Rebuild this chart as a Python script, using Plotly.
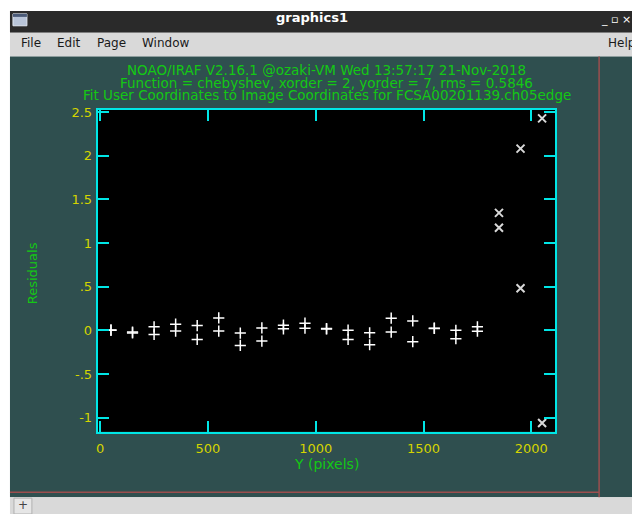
import plotly.graph_objects as go

# ---------------- data ----------------
fit_y_pixels = [50, 50, 150, 150, 250, 250, 350, 350, 450, 450, 550, 550,
                650, 650, 750, 750, 850, 850, 950, 950, 1050, 1050,
                1150, 1150, 1250, 1250, 1350, 1350, 1450, 1450, 1550, 1550,
                1650, 1650, 1750, 1750]
fit_residuals = [0.0, 0.005, -0.02, -0.03, 0.04, -0.048, 0.07, -0.009, 0.054, -0.104,
                 0.142, -0.009, -0.032, -0.173, 0.028, -0.123, 0.059, 0.017,
                 0.082, 0.025, 0.02, 0.015, 0.002, -0.104, -0.028, -0.165,
                 0.139, -0.02, 0.108, -0.13, 0.025, 0.022, 0.0, -0.096, 0.04, -0.01]

deleted_y_pixels = [1850, 1850, 1950, 1950, 2050, 2050]
deleted_residuals = [1.345, 1.175, 2.08, 0.482, 2.427, -1.061]

x_tick_vals = [0, 500, 1000, 1500, 2000]
x_tick_text = ["0", "500", "1000", "1500", "2000"]
y_tick_vals = [2.5, 2, 1.5, 1, 0.5, 0, -0.5, -1]
y_tick_text = ["2.5", "2", "1.5", "1", ".5", "0", "-.5", "-1"]

title_lines = [
    "NOAO/IRAF V2.16.1 @ozaki-VM Wed 13:57:17 21-Nov-2018",
    "Function = chebyshev, xorder = 2, yorder = 7, rms = 0.5846",
    "Fit User Coordinates to Image Coordinates for FCSA00201139.ch05edge",
]
x_label = "Y (pixels)"
y_label = "Residuals"

# ---------------- style ----------------
W, H = 632, 514
SLATE = "#2f4f4f"
CYAN = "#00e6e6"
YELLOW = "#d4d400"
GREEN = "#14c814"
RED = "#9c4e4e"
GRAY = "#d9d9d9"
FONT = "DejaVu Sans"

PL, PR, PT, PB = 96, 555, 106, 431   # plot frame in pixels


def px(x):
    return x / W


def py(y):
    return 1 - y / H


fig = go.Figure()
fig.add_trace(go.Scatter(
    x=fit_y_pixels, y=fit_residuals, mode="markers",
    marker=dict(symbol="cross-thin", size=8, line=dict(color="white", width=1.5)),
    hoverinfo="skip", showlegend=False))
fig.add_trace(go.Scatter(
    x=deleted_y_pixels, y=deleted_residuals, mode="markers",
    marker=dict(symbol="x-thin", size=8, line=dict(color="#d8d8d8", width=2)),
    hoverinfo="skip", showlegend=False))

shapes = []


def rect(x0, y0, x1, y1, fill, line=None):
    shapes.append(dict(type="rect", xref="paper", yref="paper", x0=px(x0), x1=px(x1),
                       y0=py(y0), y1=py(y1), fillcolor=fill,
                       line=line or dict(width=0), layer="below"))


def hline(x0, x1, y, color):
    shapes.append(dict(type="line", xref="paper", yref="paper", x0=px(x0), x1=px(x1),
                       y0=py(y), y1=py(y), line=dict(color=color, width=1.5), layer="below"))


def vline(x, y0, y1, color):
    shapes.append(dict(type="line", xref="paper", yref="paper", x0=px(x), x1=px(x),
                       y0=py(y0), y1=py(y1), line=dict(color=color, width=1.5), layer="below"))


# window chrome
rect(8, 6, W, 28, "#2a2a2a")
rect(11, 9, 25, 21, "#b8c4d8", dict(color="#e0e6f0", width=1))
rect(11, 9, 25, 12, "#4a5a78")
rect(8, 28, W, 52, GRAY)
rect(8, 52, W, 497, SLATE)
rect(8, 497, W, H, GRAY)
rect(12, 498, 30, H, "#e6e6e6", dict(color="#b0b0b0", width=1))
vline(599, 52, 497, RED)
hline(8, 599, 492, RED)
# plot background (black)
rect(PL, PT, PR, PB, "black")

annotations = []


def ann(text, x, y, size, color, **kw):
    annotations.append(dict(text=text, x=px(x), y=py(y), xref="paper", yref="paper",
                            xanchor="center", yanchor="middle",
                            showarrow=False, font=dict(family=FONT, size=size, color=color), **kw))


ann("<b>graphics1</b>", 311, 13, 13, "white")
ann("_ ▫ ×", 616, 15, 11, "white")
for t, xx in [("File", 29), ("Edit", 67), ("Page", 110), ("Window", 165), ("Help", 621)]:
    ann(t, xx, 38.5, 12, "#1a1a1a")
ann("+", 21, 505, 12, "#444444")

for i, line in enumerate(title_lines):
    ann(line, 326, 66 + 12.6 * i, 13.5, GREEN)
ann(x_label, 326, 463.5, 14, GREEN)
ann(y_label, 30, 271, 13, GREEN, textangle=-90)

fig.update_layout(
    width=W, height=H, autosize=False,
    margin=dict(l=0, r=0, t=0, b=0, pad=0),
    paper_bgcolor="white", plot_bgcolor="black",
    shapes=shapes, annotations=annotations,
    xaxis=dict(domain=[px(PL), px(PR)], range=[-11.6, 2111], showgrid=False, zeroline=False,
               showline=True, linecolor=CYAN, linewidth=2, mirror="ticks",
               ticks="inside", ticklen=11, tickwidth=2, tickcolor=CYAN,
               tickvals=x_tick_vals, ticktext=x_tick_text, ticklabelstandoff=4,
               tickfont=dict(family=FONT, size=13, color=YELLOW)),
    yaxis=dict(domain=[py(PB), py(PT)], range=[-1.162, 2.523], showgrid=False, zeroline=False,
               showline=True, linecolor=CYAN, linewidth=2, mirror="ticks",
               ticks="inside", ticklen=11, tickwidth=2, tickcolor=CYAN,
               tickvals=y_tick_vals, ticktext=y_tick_text, ticklabelstandoff=1,
               tickfont=dict(family=FONT, size=13, color=YELLOW)),
)

fig.write_html("out.html", config={"displayModeBar": False},
               post_script="document.body.style.margin='0';document.body.style.overflow='hidden';")
